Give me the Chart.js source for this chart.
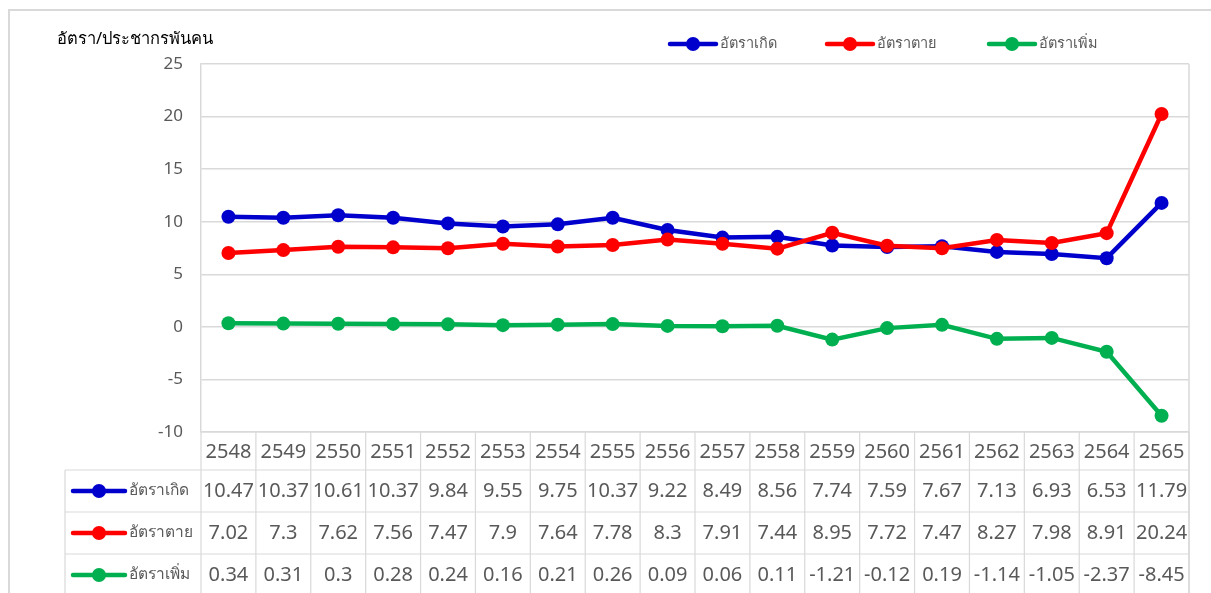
<!DOCTYPE html>
<html>
<head>
<meta charset="utf-8">
<script src="https://cdn.jsdelivr.net/npm/chart.js@4"></script>
<style>
  html, body { margin: 0; padding: 0; background: #fff; }
  #wrap { width: 1211px; height: 593px; position: relative; }
</style>
</head>
<body>
<div id="wrap"><canvas id="c" width="1211" height="593"></canvas></div>
<script>
// Thai population rates per 1,000 people, B.E. 2548–2565
const years = ['2548','2549','2550','2551','2552','2553','2554','2555','2556','2557','2558','2559','2560','2561','2562','2563','2564','2565'];
const birthRate = [10.47,10.37,10.61,10.37,9.84,9.55,9.75,10.37,9.22,8.49,8.56,7.74,7.59,7.67,7.13,6.93,6.53,11.79];
const deathRate = [7.02,7.3,7.62,7.56,7.47,7.9,7.64,7.78,8.3,7.91,7.44,8.95,7.72,7.47,8.27,7.98,8.91,20.24];
const growthRate = [0.34,0.31,0.3,0.28,0.24,0.16,0.21,0.26,0.09,0.06,0.11,-1.21,-0.12,0.19,-1.14,-1.05,-2.37,-8.45];
const seriesNames = ['อัตราเกิด','อัตราตาย','อัตราเพิ่ม'];
const seriesColors = ['#0000CC','#FF0000','#00B050'];
const yTitle = 'อัตรา/ประชากรพันคน';
const yTicks = [25,20,15,10,5,0,-5,-10];

const FONT = '"Noto Sans", "DejaVu Sans", sans-serif';
const GRID = '#d9d9d9';
const TEXT = '#595959';

function marker(ctx, x, y, color, len) {
  ctx.save();
  ctx.strokeStyle = color;
  ctx.lineWidth = 4.5;
  ctx.lineCap = 'round';
  ctx.beginPath();
  ctx.moveTo(x - len / 2, y);
  ctx.lineTo(x + len / 2, y);
  ctx.stroke();
  ctx.fillStyle = color;
  ctx.beginPath();
  ctx.arc(x, y, 7, 0, Math.PI * 2);
  ctx.fill();
  ctx.restore();
}

// Frame, title, legend and the data table under the plot
const decor = {
  id: 'decor',
  afterDraw(chart) {
    const ctx = chart.ctx;
    const xs = chart.scales.x;
    const area = chart.chartArea;
    const n = years.length;
    const colW = (area.right - area.left) / n;
    const headerBottom = 470, rowH = 42, tableLeft = 65;
    ctx.save();

    // outer frame
    ctx.strokeStyle = GRID;
    ctx.lineWidth = 2;
    ctx.beginPath();
    ctx.moveTo(9, 593); ctx.lineTo(9, 10); ctx.lineTo(1211, 10);
    ctx.stroke();

    // plot right border
    ctx.lineWidth = 1.5;
    ctx.beginPath();
    ctx.moveTo(area.right, area.top); ctx.lineTo(area.right, 593);
    ctx.stroke();

    // table grid
    ctx.lineWidth = 1.2;
    for (let i = 0; i <= n; i++) {
      const x = area.left + i * colW;
      ctx.beginPath(); ctx.moveTo(x, area.bottom); ctx.lineTo(x, 593); ctx.stroke();
    }
    ctx.beginPath(); ctx.moveTo(area.left, area.bottom); ctx.lineTo(area.right, area.bottom); ctx.stroke();
    ctx.beginPath(); ctx.moveTo(tableLeft, headerBottom); ctx.lineTo(tableLeft, 593); ctx.stroke();
    for (let r = 0; r < 3; r++) {
      const y = headerBottom + r * rowH;
      ctx.beginPath(); ctx.moveTo(tableLeft, y); ctx.lineTo(area.right, y); ctx.stroke();
    }

    // axis title
    ctx.fillStyle = '#000';
    ctx.font = '16.5px ' + FONT;
    ctx.textAlign = 'left';
    ctx.textBaseline = 'middle';
    ctx.fillText(yTitle, 57, 39);

    // top legend
    const legendX = [693, 850, 1012];
    ctx.font = '14.5px ' + FONT;
    ctx.fillStyle = TEXT;
    for (let s = 0; s < 3; s++) {
      marker(ctx, legendX[s], 44, seriesColors[s], 46);
      ctx.fillStyle = TEXT;
      ctx.textAlign = 'left';
      ctx.fillText(seriesNames[s], legendX[s] + 27, 44);
    }

    // header row: years
    ctx.font = '20px ' + FONT;
    ctx.fillStyle = TEXT;
    ctx.textAlign = 'center';
    years.forEach((yr, i) => ctx.fillText(yr, xs.getPixelForValue(i), 452));

    // value rows
    const rows = [birthRate, deathRate, growthRate];
    rows.forEach((vals, r) => {
      const cy = headerBottom + r * rowH + rowH / 2;
      ctx.font = '20px ' + FONT;
      ctx.fillStyle = TEXT;
      ctx.textAlign = 'center';
      vals.forEach((v, i) => ctx.fillText(String(v), xs.getPixelForValue(i), cy));
      marker(ctx, 99, cy, seriesColors[r], 52);
      ctx.font = '15.5px ' + FONT;
      ctx.fillStyle = TEXT;
      ctx.textAlign = 'left';
      ctx.fillText(seriesNames[r], 129, cy);
    });
    ctx.restore();
  }
};

const ds = (label, data, color, order) => ({
  label, data, order,
  borderColor: color, backgroundColor: color,
  borderWidth: 4.5,
  pointRadius: 7, pointHoverRadius: 7,
  pointBackgroundColor: color, pointBorderColor: color, pointBorderWidth: 0,
  tension: 0, fill: false
});

new Chart(document.getElementById('c'), {
  type: 'line',
  data: {
    labels: years,
    datasets: [
      ds(seriesNames[0], birthRate, seriesColors[0], 3),
      ds(seriesNames[1], deathRate, seriesColors[1], 2),
      ds(seriesNames[2], growthRate, seriesColors[2], 1)
    ]
  },
  options: {
    responsive: false,
    animation: false,
    events: [],
    layout: { padding: { left: 0, top: 64, right: 22, bottom: 161 } },
    plugins: { legend: { display: false }, tooltip: { enabled: false }, title: { display: false } },
    scales: {
      x: { type: 'category', offset: true, display: false },
      y: {
        min: -10, max: 25,
        afterFit(scale) { scale.width = 201; },
        afterBuildTicks(scale) { scale.ticks = yTicks.map(v => ({ value: v })); },
        ticks: { stepSize: 5, padding: 18, color: TEXT, font: { family: FONT, size: 17 } },
        grid: { color: GRID, lineWidth: 1.5, drawTicks: false },
        border: { display: true, color: GRID, width: 1.5 }
      }
    }
  },
  plugins: [decor]
});
</script>
</body>
</html>
